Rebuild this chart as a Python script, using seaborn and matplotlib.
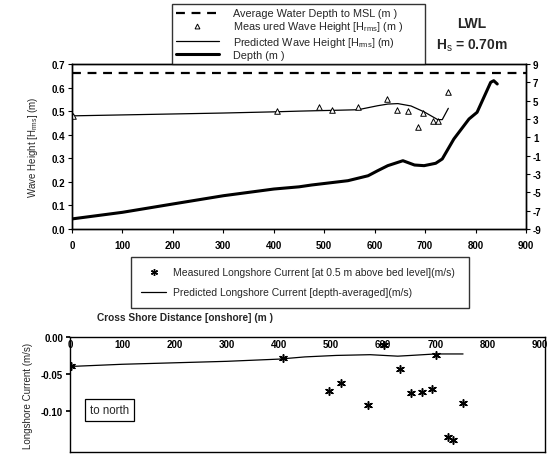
import matplotlib
matplotlib.use("Agg")
import numpy as np
import pandas as pd
import seaborn as sns
import matplotlib.pyplot as plt
from matplotlib.lines import Line2D

# ---------------- data ----------------
dist_pred_wave = [0, 100, 200, 300, 400, 449, 488, 530, 567, 606, 626, 646, 672, 698, 725, 734, 746]
hrms_pred = [0.480, 0.484, 0.488, 0.492, 0.497, 0.500, 0.502, 0.504, 0.506, 0.523, 0.530, 0.532,
             0.522, 0.497, 0.464, 0.464, 0.512]

dist_meas = [2, 406, 490, 516, 566, 625, 644, 666, 685, 695, 715, 725, 746]
hrms_meas = [0.480, 0.499, 0.516, 0.506, 0.519, 0.552, 0.506, 0.499, 0.431, 0.491, 0.457, 0.457, 0.580]

dist_depth = [0, 100, 200, 300, 400, 450, 475, 547, 587, 606, 626, 656, 679, 698, 721, 734,
              757, 787, 803, 830, 836, 843]
depth = [-7.9, -7.18, -6.27, -5.37, -4.64, -4.4, -4.2, -3.73, -3.19, -2.64, -2.09, -1.55, -2.02,
         -2.09, -1.83, -1.36, 0.82, 3.0, 3.73, 7.0, 7.18, 6.82]

dist_msl = [0, 900]
msl_depth = [8.0, 8.0]

dist_cur_meas = [1, 409, 496, 520, 570, 602, 633, 653, 674, 694, 702, 725, 734, 753]
cur_meas = [-0.039, -0.029, -0.073, -0.062, -0.092, -0.0105, -0.043, -0.076, -0.074, -0.070,
            -0.025, -0.136, -0.140, -0.089]

dist_cur_pred = [0, 100, 200, 300, 400, 450, 510, 575, 628, 653, 700, 753]
cur_pred = [-0.040, -0.037, -0.035, -0.033, -0.030, -0.027, -0.025, -0.024, -0.026, -0.025,
            -0.023, -0.023]

x_ticks = [0, 100, 200, 300, 400, 500, 600, 700, 800, 900]
left_ticks = [0.0, 0.1, 0.2, 0.3, 0.4, 0.5, 0.6, 0.7]
right_ticks = [9, 7, 5, 3, 1, -1, -3, -5, -7, -9]
cur_ticks = [0.00, -0.05, -0.10]

# ---------------- style ----------------
sns.set_theme(style="white")
plt.rcParams["font.family"] = ["Liberation Sans", "DejaVu Sans"]
plt.rcParams["mathtext.fontset"] = "custom"
plt.rcParams["mathtext.rm"] = "Liberation Sans"
plt.rcParams["mathtext.bf"] = "Liberation Sans:bold"
plt.rcParams["axes.edgecolor"] = "black"
plt.rcParams["axes.linewidth"] = 1.0

fig = plt.figure(figsize=(5.55, 4.56), dpi=100)

W, H = 555.0, 456.0
def box(l, t, r, b):
    return [l / W, 1 - b / H, (r - l) / W, (b - t) / H]

ax1 = fig.add_axes(box(72, 65, 526, 230))
ax2 = ax1.twinx()

sns.lineplot(x=dist_pred_wave, y=hrms_pred, ax=ax1, color="black", linewidth=0.9)
sns.scatterplot(x=dist_meas, y=hrms_meas, ax=ax1, marker="^", s=16, facecolor="white",
                edgecolor="black", linewidth=0.7, zorder=5)
sns.lineplot(x=dist_depth, y=depth, ax=ax2, color="black", linewidth=2.2)
sns.lineplot(x=dist_msl, y=msl_depth, ax=ax2, color="black", linewidth=1.6,
             linestyle=(0, (4, 3)))

ax1.set_xlim(0, 900)
ax1.set_ylim(0, 0.7)
ax2.set_ylim(-9, 9)
ax1.set_xticks(x_ticks)
ax1.set_xticklabels([str(v) for v in x_ticks], fontweight="bold", fontsize=7)
ax1.set_yticks(left_ticks)
ax1.set_yticklabels([f"{v:.1f}" for v in left_ticks], fontweight="bold", fontsize=7)
ax2.set_yticks(right_ticks)
ax2.set_yticklabels([str(v) for v in right_ticks], fontweight="bold", fontsize=7)
for a in (ax1, ax2):
    a.tick_params(direction="out", length=3, width=0.8, color="black", pad=2, labelcolor="black")
    for s in a.spines.values():
        s.set_color("black")
ax1.tick_params(axis="x", bottom=True, pad=5)
ax1.tick_params(axis="y", left=True)
ax2.tick_params(axis="y", right=True)
ax1.set_xlabel("")
ax1.set_ylabel(r"Wave Height [H$_{\rm rms}$] (m)", fontsize=7, labelpad=8)

handles_top = [
    Line2D([], [], color="black", linewidth=1.6, linestyle=(0, (4, 3))),
    Line2D([], [], color="black", linestyle="none", marker="^", markersize=3.5,
           markerfacecolor="white", markeredgewidth=0.7),
    Line2D([], [], color="black", linewidth=0.9),
    Line2D([], [], color="black", linewidth=2.2),
]
labels_top = [
    "Average Water Depth to MSL (m )",
    r"Meas ured Wave Height [H$_{\rm rms}$] (m )",
    r"Predicted Wave Height [H$_{\rm rms}$] (m)",
    "Depth (m )",
]
leg1 = fig.legend(handles_top, labels_top, loc="upper left",
                  bbox_to_anchor=(172 / W, 1 - 5 / H - 0.01, 253 / W, 0.01), mode="expand",
                  fontsize=7.8, frameon=True, fancybox=False, edgecolor="black",
                  handlelength=3.9, labelspacing=0.1, borderpad=0.4, handletextpad=1.3,
                  borderaxespad=0)
leg1.get_frame().set_linewidth(1.0)

fig.text(0.850, 0.947, "LWL", fontsize=10, fontweight="bold", ha="center", va="center")
fig.text(0.850, 0.900, r"H$_{\rm s}$ = 0.70m", fontsize=10, fontweight="bold",
         ha="center", va="center")

# ---------------- bottom chart ----------------
ax3 = fig.add_axes(box(70, 338, 545, 453))
sns.lineplot(x=dist_cur_pred, y=cur_pred, ax=ax3, color="black", linewidth=0.9)
sns.scatterplot(x=dist_cur_meas, y=cur_meas, ax=ax3, marker=(6, 2, 0), s=30,
                color="black", linewidth=1.1, zorder=5)
ax3.set_xlim(0, 910)
ax3.set_ylim(-0.156, 0)
ax3.set_xticks(x_ticks)
ax3.set_xticklabels([str(v) for v in x_ticks], fontweight="bold", fontsize=7)
ax3.xaxis.tick_top()
ax3.tick_params(axis="x", top=True, bottom=False, labeltop=True, labelbottom=False,
                direction="in", length=0, pad=-9, colors="black")
ax3.set_yticks(cur_ticks)
ax3.set_yticklabels([f"{v:.2f}" for v in cur_ticks], fontweight="bold", fontsize=7)
ax3.tick_params(axis="y", left=True, direction="out", length=3, pad=2, colors="black")
for s in ax3.spines.values():
    s.set_color("black")
ax3.set_xlabel("")
ax3.set_ylabel("Longshore Current (m/s)", fontsize=7, labelpad=6)
ax3.text(76, -0.099, "to north", fontsize=8.3, ha="center", va="center",
         bbox=dict(boxstyle="square,pad=0.4", facecolor="white", edgecolor="black", linewidth=0.9))

fig.text(0.333, 0.303, "Cross Shore Distance [onshore] (m )", fontsize=7.3, fontweight="bold",
         ha="center", va="center")

handles_bot = [
    Line2D([], [], color="black", linestyle="none", marker=(6, 2, 0), markersize=5,
           markeredgewidth=1.0),
    Line2D([], [], color="black", linewidth=0.9),
]
labels_bot = [
    "Measured Longshore Current [at 0.5 m above bed level](m/s)",
    "Predicted Longshore Current [depth-averaged](m/s)",
]
leg2 = fig.legend(handles_bot, labels_bot, loc="upper left",
                  bbox_to_anchor=(131 / W, 1 - 258 / H - 0.01, 338 / W, 0.01), mode="expand",
                  fontsize=7.5, frameon=True, fancybox=False, edgecolor="black",
                  handlelength=2.4, labelspacing=0.95, borderpad=1.0, handletextpad=0.6,
                  borderaxespad=0)
leg2.get_frame().set_linewidth(1.0)

fig.savefig("out.png", dpi=100)
